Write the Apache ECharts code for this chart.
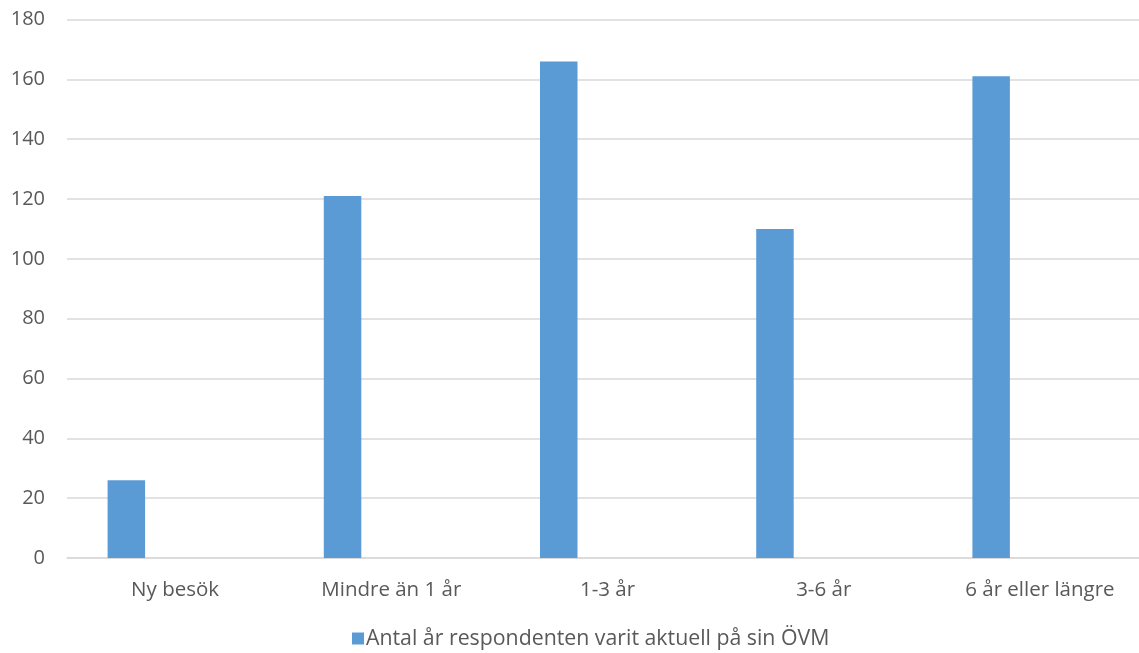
<!DOCTYPE html>
<html>
<head>
<meta charset="utf-8">
<script src="https://cdn.jsdelivr.net/npm/echarts@6/dist/echarts.min.js"></script>
<style>
html,body{margin:0;padding:0;background:#fff;}
#chart{width:1139px;height:653px;}
</style>
</head>
<body>
<div id="chart"></div>
<script>
const categories = ['Ny besök', 'Mindre än 1 år', '1-3 år', '3-6 år', '6 år eller längre'];
const seriesName = 'Antal år respondenten varit aktuell på sin ÖVM';
const values = [26, 121, 166, 110, 161];
const emptyValues = [null, null, null, null, null];
const yTicks = { min: 0, max: 180, interval: 20 };

const chart = echarts.init(document.getElementById('chart'));
const font = '"Open Sans", sans-serif';
chart.setOption({
  animation: false,
  grid: { left: 67, width: 1081, top: 19.5, bottom: 95, containLabel: false, outerBoundsMode: 'none' },
  legend: {
    data: [seriesName],
    bottom: -1,
    left: 347,
    icon: 'rect',
    itemWidth: 12,
    itemHeight: 12,
    itemGap: 10,
    textStyle: { color: '#595959', fontSize: 21.3, fontFamily: font, padding: [0, 0, 0, -3] }
  },
  xAxis: {
    type: 'category',
    data: categories,
    axisLine: { show: true, lineStyle: { color: '#d9d9d9', width: 1.5 } },
    axisTick: { show: false },
    axisLabel: { color: '#595959', fontSize: 20.5, fontFamily: font, margin: 22 }
  },
  yAxis: {
    type: 'value',
    min: yTicks.min,
    max: yTicks.max,
    interval: yTicks.interval,
    axisLine: { show: false },
    axisTick: { show: false },
    splitLine: { lineStyle: { color: '#d9d9d9', width: 1.5 } },
    axisLabel: { color: '#595959', fontSize: 20, fontFamily: font, margin: 22 }
  },
  series: [
    {
      name: seriesName,
      type: 'bar',
      data: values,
      barWidth: 37.5,
      barGap: '160%',
      itemStyle: { color: '#5b9bd5' }
    },
    {
      name: 'empty',
      type: 'bar',
      data: emptyValues,
      barWidth: 37.5,
      itemStyle: { color: '#ed7d31' }
    }
  ]
});
</script>
</body>
</html>
